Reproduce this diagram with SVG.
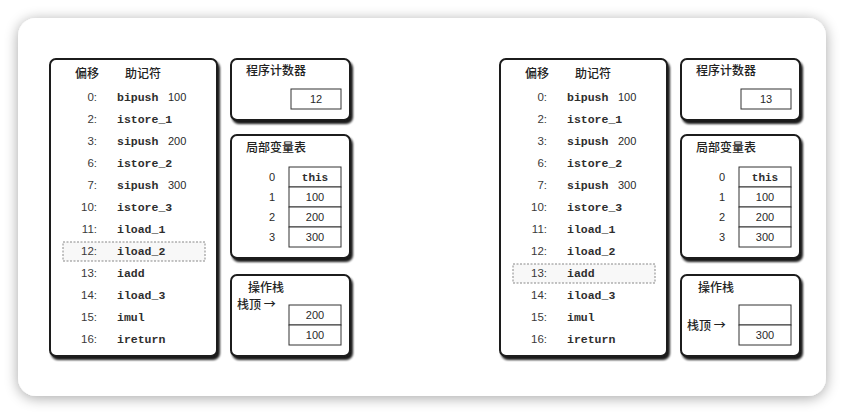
<svg xmlns="http://www.w3.org/2000/svg" width="844" height="414" viewBox="0 0 844 414">
<defs>
<filter id="cardShadow" x="-5%" y="-8%" width="110%" height="118%">
<feGaussianBlur in="SourceAlpha" stdDeviation="7"/>
<feOffset dx="0" dy="2"/>
<feComponentTransfer><feFuncA type="linear" slope="0.35"/></feComponentTransfer>
<feMerge><feMergeNode/><feMergeNode in="SourceGraphic"/></feMerge>
</filter>
<filter id="boxShadow" x="-10%" y="-10%" width="125%" height="125%">
<feGaussianBlur in="SourceAlpha" stdDeviation="1.3"/>
<feOffset dx="2" dy="2.5"/>
<feComponentTransfer><feFuncA type="linear" slope="0.9"/></feComponentTransfer>
<feMerge><feMergeNode/><feMergeNode in="SourceGraphic"/></feMerge>
</filter>
</defs>
<style>
.box{fill:#fff;stroke:#1a1a1a;stroke-width:2;filter:url(#boxShadow)}
.cell{fill:#fff;stroke:#333;stroke-width:1}
.hl{fill:#f8f8f8;stroke:#888;stroke-width:1;stroke-dasharray:2 1.5}
.cjk{font-family:"Noto Sans CJK SC","Noto Sans",sans-serif;font-size:12px;font-weight:500;fill:#222}
.off{font-family:"Liberation Sans",Arial,sans-serif;font-size:11.5px;fill:#3a3a3a;text-anchor:end}
.mn{font-family:"Liberation Mono","DejaVu Sans Mono",monospace;font-size:11.5px;font-weight:bold;fill:#2e2e2e}
.num{font-family:"Liberation Sans",Arial,sans-serif;font-size:11px;fill:#2a2a2a}
.c{text-anchor:middle}
</style>
<rect x="0" y="0" width="844" height="414" fill="#ffffff"/>
<rect x="18" y="18" width="808" height="378" rx="18" fill="#ffffff" filter="url(#cardShadow)"/>

<g id="connectors"/>

<!-- LEFT STATE -->
<g id="left-instructions">
<rect class="box" x="50" y="59" width="167" height="297" rx="6"/>
<text class="cjk" x="87" y="78" text-anchor="middle">偏移</text>
<text class="cjk" x="143" y="78" text-anchor="middle">助记符</text>
<rect class="hl" x="63" y="242" width="142" height="19"/>
<g class="off">
<text x="97" y="101">0:</text><text x="97" y="123">2:</text><text x="97" y="145">3:</text><text x="97" y="167">6:</text><text x="97" y="189">7:</text><text x="97" y="211">10:</text><text x="97" y="233">11:</text><text x="97" y="255">12:</text><text x="97" y="277">13:</text><text x="97" y="299">14:</text><text x="97" y="321">15:</text><text x="97" y="343">16:</text>
</g>
<g class="mn">
<text x="117" y="101">bipush</text><text x="117" y="123">istore_1</text><text x="117" y="145">sipush</text><text x="117" y="167">istore_2</text><text x="117" y="189">sipush</text><text x="117" y="211">istore_3</text><text x="117" y="233">iload_1</text><text x="117" y="255">iload_2</text><text x="117" y="277">iadd</text><text x="117" y="299">iload_3</text><text x="117" y="321">imul</text><text x="117" y="343">ireturn</text>
</g>
<g class="num"><text x="168" y="101">100</text><text x="168" y="145">200</text><text x="168" y="189">300</text></g>
</g>
<g id="left-pc">
<rect class="box" x="231" y="59" width="119" height="61" rx="6"/>
<text class="cjk" x="246" y="75">程序计数器</text>
<rect class="cell" x="291" y="89" width="50" height="20"/>
<text class="num c" x="316" y="103">12</text>
</g>
<g id="left-locals">
<rect class="box" x="231" y="135" width="119" height="123" rx="6"/>
<text class="cjk" x="246" y="152">局部变量表</text>
<rect class="cell" x="289" y="167" width="52" height="20"/><rect class="cell" x="289" y="187" width="52" height="20"/><rect class="cell" x="289" y="207" width="52" height="20"/><rect class="cell" x="289" y="227" width="52" height="20"/>
<g class="num c"><text x="272" y="181">0</text><text x="272" y="201">1</text><text x="272" y="221">2</text><text x="272" y="241">3</text>
<text x="315" y="201">100</text><text x="315" y="221">200</text><text x="315" y="241">300</text></g>
<text class="mn c" x="315" y="181" style="font-size:11px">this</text>
</g>
<g id="left-stack">
<rect class="box" x="231" y="275" width="119" height="81" rx="6"/>
<text class="cjk" x="248" y="292">操作栈</text>
<text class="cjk" x="237" y="309">栈顶 →</text>
<rect class="cell" x="289" y="305" width="52" height="20"/><rect class="cell" x="289" y="325" width="52" height="20"/>
<g class="num c"><text x="315" y="319">200</text><text x="315" y="339">100</text></g>
</g>

<!-- RIGHT STATE -->
<g id="right-instructions">
<rect class="box" x="500" y="59" width="167" height="297" rx="6"/>
<text class="cjk" x="537" y="78" text-anchor="middle">偏移</text>
<text class="cjk" x="593" y="78" text-anchor="middle">助记符</text>
<rect class="hl" x="513" y="264" width="142" height="19"/>
<g class="off">
<text x="547" y="101">0:</text><text x="547" y="123">2:</text><text x="547" y="145">3:</text><text x="547" y="167">6:</text><text x="547" y="189">7:</text><text x="547" y="211">10:</text><text x="547" y="233">11:</text><text x="547" y="255">12:</text><text x="547" y="277">13:</text><text x="547" y="299">14:</text><text x="547" y="321">15:</text><text x="547" y="343">16:</text>
</g>
<g class="mn">
<text x="567" y="101">bipush</text><text x="567" y="123">istore_1</text><text x="567" y="145">sipush</text><text x="567" y="167">istore_2</text><text x="567" y="189">sipush</text><text x="567" y="211">istore_3</text><text x="567" y="233">iload_1</text><text x="567" y="255">iload_2</text><text x="567" y="277">iadd</text><text x="567" y="299">iload_3</text><text x="567" y="321">imul</text><text x="567" y="343">ireturn</text>
</g>
<g class="num"><text x="618" y="101">100</text><text x="618" y="145">200</text><text x="618" y="189">300</text></g>
</g>
<g id="right-pc">
<rect class="box" x="681" y="59" width="119" height="61" rx="6"/>
<text class="cjk" x="696" y="75">程序计数器</text>
<rect class="cell" x="741" y="89" width="50" height="20"/>
<text class="num c" x="766" y="103">13</text>
</g>
<g id="right-locals">
<rect class="box" x="681" y="135" width="119" height="123" rx="6"/>
<text class="cjk" x="696" y="152">局部变量表</text>
<rect class="cell" x="739" y="167" width="52" height="20"/><rect class="cell" x="739" y="187" width="52" height="20"/><rect class="cell" x="739" y="207" width="52" height="20"/><rect class="cell" x="739" y="227" width="52" height="20"/>
<g class="num c"><text x="722" y="181">0</text><text x="722" y="201">1</text><text x="722" y="221">2</text><text x="722" y="241">3</text>
<text x="765" y="201">100</text><text x="765" y="221">200</text><text x="765" y="241">300</text></g>
<text class="mn c" x="765" y="181" style="font-size:11px">this</text>
</g>
<g id="right-stack">
<rect class="box" x="681" y="275" width="119" height="81" rx="6"/>
<text class="cjk" x="698" y="292">操作栈</text>
<text class="cjk" x="687" y="330">栈顶 →</text>
<rect class="cell" x="739" y="305" width="52" height="20"/><rect class="cell" x="739" y="325" width="52" height="20"/>
<text class="num c" x="765" y="339">300</text>
</g>
</svg>
